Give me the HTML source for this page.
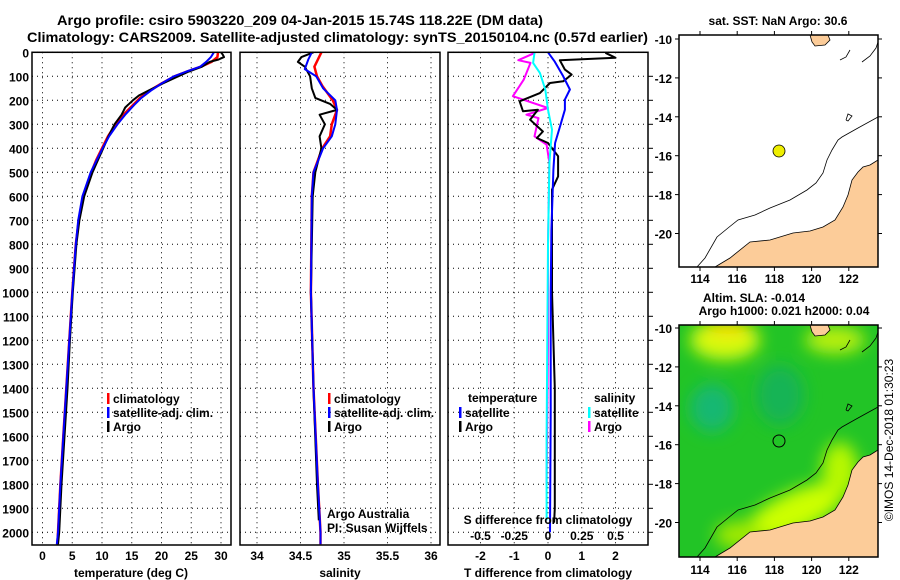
<!DOCTYPE html>
<html><head><meta charset="utf-8"><style>
html,body{margin:0;padding:0;background:#fff;}
svg{display:block;font-family:"Liberation Sans",sans-serif;}
.b{font-weight:bold;font-size:12px;}
.t{font-weight:bold;font-size:14px;}
</style></head><body>
<svg id="c" width="900" height="580" viewBox="0 0 900 580" xmlns="http://www.w3.org/2000/svg">
<defs><filter id="bl" x="-30%" y="-30%" width="160%" height="160%"><feGaussianBlur stdDeviation="8"/></filter>
<clipPath id="mc"><rect x="679" y="325" width="199" height="232"/></clipPath></defs>
<text class="t" x="57" y="25" textLength="486" lengthAdjust="spacingAndGlyphs">Argo profile: csiro 5903220_209 04-Jan-2015 15.74S 118.22E (DM data)</text>
<text class="t" x="27" y="42" textLength="621" lengthAdjust="spacingAndGlyphs">Climatology: CARS2009. Satellite-adjusted climatology: synTS_20150104.nc (0.57d earlier)</text>
<g id="plots"></g>
<!-- top map -->
<g>
<text class="b" x="778" y="25" text-anchor="middle">sat. SST: NaN Argo: 30.6</text>
<rect x="679" y="35" width="199" height="232" fill="#fff"/>
<polygon fill="#fccc99" stroke="#000" stroke-width="0.8" points="715,267 730,258 750,242 770,240 793,233 810,231 823,227 835,220 843,207 848,195 852,180 858,172 863,167 870,165 878,160 878,267"/>
<polygon fill="#fccc99" stroke="#000" stroke-width="0.8" points="810,35 828,35 830,40 825,45 815,46 812,42"/>
<polyline fill="none" stroke="#000" stroke-width="0.8" points="697,267 705,258 717,237 728,228 738,220 755,215 770,208 790,200 807,190 816,183 823,173 827,160 832,150 838,140 842,137 858,128 878,117"/>
<polyline fill="none" stroke="#000" stroke-width="0.8" points="840,60 846,57 850,50" />
<polyline fill="none" stroke="#000" stroke-width="0.8" points="862,62 870,56 876,48 878,42" />
<polyline fill="none" stroke="#000" stroke-width="0.8" points="846,120 848,114 852,116 848,121 846,120" />
<circle cx="779" cy="151" r="6" fill="#eeee00" stroke="#000" stroke-width="0.8"/>
<rect x="679" y="35" width="199" height="232" fill="none" stroke="#000" stroke-width="1.5"/>
</g>
<!-- bottom map -->
<g>
<text class="b" x="754" y="302" text-anchor="middle">Altim. SLA: -0.014</text>
<text class="b" x="784" y="315" text-anchor="middle">Argo h1000: 0.021 h2000: 0.04</text>
<g clip-path="url(#mc)">
<rect x="679" y="325" width="199" height="232" fill="#22c426"/>
<g filter="url(#bl)">
<ellipse cx="725" cy="340" rx="35" ry="20" fill="#d8fa10"/>
<ellipse cx="728" cy="327" rx="22" ry="7" fill="#ffd600"/>
<ellipse cx="835" cy="340" rx="30" ry="14" fill="#b8f010"/>
<ellipse cx="712" cy="408" rx="22" ry="24" fill="#16b872"/>
<ellipse cx="780" cy="395" rx="24" ry="30" fill="#18b455"/>
<ellipse cx="795" cy="512" rx="55" ry="20" transform="rotate(-25 795 512)" fill="#ccff00"/>
<ellipse cx="840" cy="470" rx="18" ry="28" fill="#b8f800"/>
<ellipse cx="740" cy="535" rx="25" ry="14" fill="#a0ea00"/>
</g>
<polygon fill="#fccc99" stroke="#000" stroke-width="0.8" points="715,557 730,548 750,532 770,530 793,523 810,521 823,517 835,510 843,497 848,485 852,470 858,462 863,457 870,455 878,450 878,557"/>
<polygon fill="#fccc99" stroke="#000" stroke-width="0.8" points="810,325 828,325 830,330 825,335 815,336 812,332"/>
<polyline fill="none" stroke="#000" stroke-width="0.8" points="697,557 705,548 717,527 728,518 738,510 755,505 770,498 790,490 807,480 816,473 823,463 827,450 832,440 838,430 842,427 858,418 878,407"/>
<polyline fill="none" stroke="#000" stroke-width="0.8" points="840,350 846,347 850,340"/>
<polyline fill="none" stroke="#000" stroke-width="0.8" points="862,352 870,346 876,338 878,332"/>
<polyline fill="none" stroke="#000" stroke-width="0.8" points="846,410 848,404 852,406 848,411 846,410"/>
</g>
<circle cx="779" cy="441" r="6" fill="none" stroke="#000" stroke-width="1"/>
<rect x="679" y="325" width="199" height="232" fill="none" stroke="#000" stroke-width="1.5"/>
</g>
<text x="893" y="440" font-size="12" text-anchor="middle" transform="rotate(-90 893 440)">©IMOS 14-Dec-2018 01:30:23</text>
</svg>
<script>
const depthTicks=[0,100,200,300,400,500,600,700,800,900,1000,1100,1200,1300,1400,1500,1600,1700,1800,1900,2000];
const tTicks=[0,5,10,15,20,25,30];
const sTicks=[34,34.5,35,35.5,36];
const sTickLabels=["34","34.5","35","35.5","36"];
const dTTicks=[-2,-1,0,1,2];
const dSTicks=[-0.5,-0.25,0,0.25,0.5];
const dSTickLabels=["-0.5","-0.25","0","0.25","0.5"];
const tClimD=[0,20,40,60,80,100,130,160,190,220,260,300,350,400,450,500,600,700,800,1000,1200,1400,1600,1800,2000,2050];
const tClimV=[29.5,29.4,28.4,26.6,24.3,22.2,20,18,16.4,15.2,13.6,12.3,11,10,9,8.2,6.8,6.1,5.6,5.0,4.5,4.0,3.5,3.0,2.6,2.5];
const tSatD=[0,20,40,60,80,100,130,160,190,220,260,300,350,400,450,500,600,700,800,1000,1200,1400,1600,1800,2000,2050];
const tSatV=[28.8,28.3,27.5,26.5,24.2,22.1,20,18.2,16.6,15.4,13.9,12.6,11.2,10.1,9.1,8.1,6.7,6.0,5.6,5.0,4.5,4.0,3.5,3.0,2.6,2.4];
const tArgD=[0,10,20,30,40,60,80,100,130,160,180,200,230,260,300,350,400,450,500,600,700,800,1000,1200,1400,1600,1800,2000,2050];
const tArgV=[30.0,30.3,30.5,29.6,28.1,26.8,24.6,22.8,20.2,17.8,16.2,15.2,13.9,13.3,12.1,11.1,10.2,9.3,8.4,7.0,6.2,5.7,5.1,4.6,4.2,3.7,3.2,2.8,2.6];
const sClimD=[0,30,60,100,140,200,240,300,350,400,500,600,1000,1400,1800,2000,2050];
const sClimV=[34.74,34.70,34.66,34.69,34.75,34.87,34.92,34.86,34.84,34.75,34.65,34.63,34.62,34.65,34.70,34.73,34.73];
const sSatD=[0,30,70,100,150,200,240,300,350,400,500,600,1000,1400,1800,2000,2050];
const sSatV=[34.63,34.59,34.55,34.68,34.76,34.90,34.92,34.90,34.86,34.76,34.65,34.63,34.62,34.65,34.70,34.73,34.73];
const sArgD=[0,20,40,60,100,150,190,215,240,260,300,350,400,500,600,1000,1400,1800,1950];
const sArgV=[34.65,34.51,34.47,34.55,34.61,34.63,34.67,34.84,34.92,34.72,34.78,34.72,34.74,34.67,34.64,34.62,34.65,34.69,34.71];
const dTSatD=[0,39,100,155,197,239,308,378,489,739,1000,1500,2000];
const dTSatV=[0,0.2,0.45,0.65,0.5,0.5,0.36,0.21,0.16,0.1,0.08,0.08,0.06];
const dTArgD=[2,23,33,72,93,121,128,170,204,246,239,281,330,357,378,433,517,572,739,1000,1400,1900,1960];
const dTArgV=[1.7,2.0,0.35,0.5,0.7,0.45,0.06,-0.24,-0.84,-0.74,-0.3,-0.53,-0.15,-0.33,0,0.3,0.3,0.12,0.12,0.12,0.2,0.2,0.18];
const dSSatD=[2,44,86,155,239,322,460,800,1200,1600,1950];
const dSSatV=[-0.1,-0.11,-0.06,-0.02,0,0.03,0.01,0,-0.005,-0.01,-0.01];
const dSArgD=[2,33,44,114,183,232,260,274,350,385,460,800,1200,1800];
const dSArgV=[-0.096,-0.22,-0.13,-0.18,-0.26,0,-0.16,-0.07,-0.1,-0.01,0.01,0,0,-0.01];

const NS="http://www.w3.org/2000/svg";
const root=document.getElementById('plots');
function mk(tag,attrs,parent){const e=document.createElementNS(NS,tag);for(const k in attrs)e.setAttribute(k,attrs[k]);(parent||root).appendChild(e);return e;}
const top0=52.3, pxPerM=0.24, bot=545;
function yD(d){return top0+d*pxPerM;}
function panel(x0,x1,xf,ticks,labels,name){
  const g=mk('g',{});
  
  
  depthTicks.forEach(d=>{const y=yD(d);mk('line',{x1:x0,x2:x1,y1:y,y2:y,stroke:'#000','stroke-width':1,'stroke-dasharray':'1,4'},g);});
  ticks.forEach(v=>{const x=xf(v);mk('line',{x1:x,x2:x,y1:top0,y2:bot,stroke:'#000','stroke-width':1,'stroke-dasharray':'1,4'},g);
    const t=mk('text',{x:x,y:560,'text-anchor':'middle','class':'b'},g);t.textContent=labels?labels[ticks.indexOf(v)]:String(v);});
  return g;
}
function line(g,xf,D,V,color,w,name){
  const pts=D.map((d,i)=>xf(V[i]).toFixed(1)+','+yD(d).toFixed(1)).join(' ');
  const p=mk('polyline',{points:pts,fill:'none',stroke:color,'stroke-width':w,'stroke-linejoin':'round'},g);
  
  
}
function frame(g,x0,x1){mk('rect',{x:x0,y:top0,width:x1-x0,height:bot-top0,fill:'none',stroke:'#000','stroke-width':1.5},g);}
function txt(g,x,y,s,cls,anchor,name){const t=mk('text',{x:x,y:y,'class':cls||'b','text-anchor':anchor||'start'},g);t.textContent=s;
  
  return t;}
function legend(g,x,y,color,label,name){mk('rect',{x:x,y:y-10,width:2.5,height:11,fill:color},g);txt(g,x+6,y,label,'b','start',name);}

depthTicks.forEach(d=>{const t=mk('text',{x:29,y:yD(d)+5,'text-anchor':'end','class':'b'});t.textContent=String(d);
  
  });

const xT=v=>42.5+5.95*v;
const g1=panel(32,231,xT,tTicks,null,'temperature-panel');
line(g1,xT,tClimD,tClimV,'#ff0000',2.5,'temperature-climatology-line');
line(g1,xT,tArgD,tArgV,'#000',2,'temperature-argo-line');
line(g1,xT,tSatD,tSatV,'#0000ff',2,'temperature-satellite-line');
frame(g1,32,231);
legend(g1,107,403,'#ff0000','climatology','legend-climatology');
legend(g1,107,417,'#0000ff','satellite-adj. clim.','legend-satellite');
legend(g1,107,431,'#000','Argo','legend-argo');
txt(g1,131,577,'temperature (deg C)','b','middle','x-axis-title-temperature');

const xS=v=>257+87*(v-34);
const g2=panel(240,440,xS,sTicks,sTickLabels,'salinity-panel');
line(g2,xS,sClimD,sClimV,'#ff0000',2.5,'salinity-climatology-line');
line(g2,xS,sArgD,sArgV,'#000',2,'salinity-argo-line');
line(g2,xS,sSatD,sSatV,'#0000ff',2,'salinity-satellite-line');
frame(g2,240,440);
legend(g2,328,403,'#ff0000','climatology','legend-climatology');
legend(g2,328,417,'#0000ff','satellite-adj. clim.','legend-satellite');
legend(g2,328,431,'#000','Argo','legend-argo');
txt(g2,327,518,'Argo Australia','','start','credit-argo-australia').setAttribute('font-size','12');
txt(g2,327,532,'PI: Susan Wijffels','','start','credit-pi').setAttribute('font-size','12');
txt(g2,340,577,'salinity','b','middle','x-axis-title-salinity');

const xDT=v=>548+33.75*v;
const xDS=v=>548+135*v;
const g3=panel(448,648,xDT,dTTicks,null,'difference-panel');
line(g3,xDS,dSArgD,dSArgV,'#ff00ff',2,'salinity-diff-argo-line');
line(g3,xDT,dTArgD,dTArgV,'#000',2,'temperature-diff-argo-line');
line(g3,xDT,dTSatD,dTSatV,'#0000ff',2,'temperature-diff-satellite-line');
line(g3,xDS,dSSatD,dSSatV,'#00ffff',2,'salinity-diff-satellite-line');
frame(g3,448,648);
txt(g3,468,402,'temperature','b','start','legend-temperature-heading');
legend(g3,459,417,'#0000ff','satellite','legend-temp-satellite');
legend(g3,459,431,'#000','Argo','legend-temp-argo');
txt(g3,594,402,'salinity','b','start','legend-salinity-heading');
legend(g3,588,417,'#00ffff','satellite','legend-sal-satellite');
legend(g3,588,431,'#ff00ff','Argo','legend-sal-argo');
txt(g3,548,524,'S difference from climatology','b','middle','s-diff-axis-title');
dSTicks.forEach((v,i)=>{txt(g3,xDS(v),540,dSTickLabels[i],'b','middle','s-diff-tick-label');});
txt(g3,548,577,'T difference from climatology','b','middle','x-axis-title-tdiff');
[100,200,300,400,500,600,700,800,900,1000,1100,1200,1300,1400,1500,1600,1700,1800,1900,2000].forEach(d=>mk('line',{x1:648,x2:653,y1:yD(d),y2:yD(d),stroke:'#000'},g3));

const lonTicks=[114,116,118,120,122];
const latTicks=[-10,-12,-14,-16,-18,-20];
function mapAxes(yTop,yBot,lat10,lonY,name){
  const g=mk('g',{});
  
  
  lonTicks.forEach(l=>{const x=700+(l-114)*18.6;mk('line',{x1:x,x2:x,y1:yBot,y2:yBot+4,stroke:'#000'},g);mk('line',{x1:x,x2:x,y1:yTop-4,y2:yTop,stroke:'#000'},g);
    txt(g,x,lonY,String(l),'b','middle','longitude-tick-label');});
  latTicks.forEach(l=>{const y=lat10+(-10-l)*19.45;mk('line',{x1:675,x2:679,y1:y,y2:y,stroke:'#000'},g);mk('line',{x1:878,x2:882,y1:y,y2:y,stroke:'#000'},g);
    txt(g,672,y+5,String(l),'b','end','latitude-tick-label');});
}
mapAxes(35,267,39,283,'sst-map-axes');
mapAxes(325,557,328,574,'sla-map-axes');
</script>
</body></html>
